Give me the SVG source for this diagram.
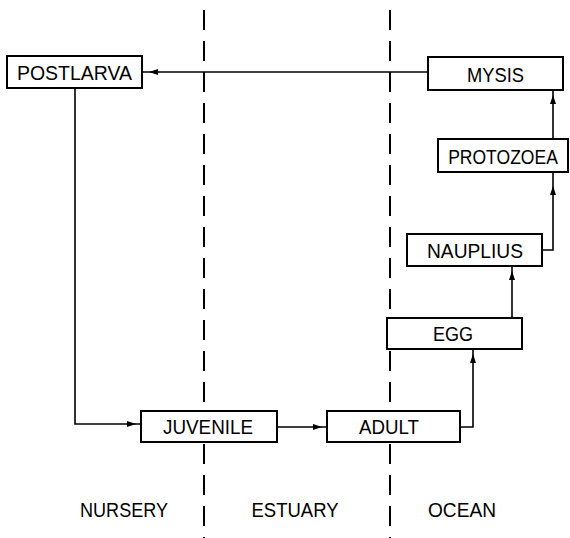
<svg xmlns="http://www.w3.org/2000/svg" xmlns:xlink="http://www.w3.org/1999/xlink" width="570" height="538" viewBox="0 0 570 538">
<style>
  .zone { stroke:#000; stroke-width:2; stroke-dasharray:20 11; fill:none; }
  .box { fill:#fff; stroke:#000; stroke-width:2; }
  .lbl { font-family:"Liberation Sans", Arial, sans-serif; font-size:20.5px; fill:#000; text-anchor:middle; }
  .conn { stroke:#000; stroke-width:1.6; fill:none; }
</style>
<defs>
  <path id="ah" d="M0,0 L-9,-3 L-9,3 Z" fill="#000"/>
</defs>
<rect width="570" height="538" fill="#fff"/>
<g id="zones">
  <line class="zone" x1="204" y1="10" x2="204" y2="538"/>
  <line class="zone" x1="390" y1="10" x2="390" y2="538"/>
</g>
<g id="connectors">
  <line class="conn" x1="428" y1="72" x2="142" y2="72"/>
  <use xlink:href="#ah" transform="translate(149,72) rotate(180)"/>
  <line class="conn" x1="553" y1="139" x2="553" y2="90"/>
  <use xlink:href="#ah" transform="translate(553,95) rotate(-90)"/>
  <polyline class="conn" points="542,250 553,250 553,172"/>
  <use xlink:href="#ah" transform="translate(553,186) rotate(-90)"/>
  <line class="conn" x1="512" y1="318" x2="512" y2="266"/>
  <use xlink:href="#ah" transform="translate(512,271) rotate(-90)"/>
  <polyline class="conn" points="460,427 473,427 473,349"/>
  <use xlink:href="#ah" transform="translate(473,354) rotate(-90)"/>
  <line class="conn" x1="277" y1="427" x2="327" y2="427"/>
  <use xlink:href="#ah" transform="translate(322,427)"/>
  <polyline class="conn" points="75,88 75,424 141,424"/>
  <use xlink:href="#ah" transform="translate(136,424)"/>
</g>
<g id="postlarva">
  <rect class="box" x="7" y="56" width="135" height="32"/>
  <text class="lbl" x="74.5" y="80" textLength="115" lengthAdjust="spacingAndGlyphs">POSTLARVA</text>
</g>
<g id="mysis">
  <rect class="box" x="428" y="57" width="135" height="33"/>
  <text class="lbl" x="495.5" y="82" textLength="57" lengthAdjust="spacingAndGlyphs">MYSIS</text>
</g>
<g id="protozoea">
  <rect class="box" x="438" y="139" width="130" height="33"/>
  <text class="lbl" transform="translate(503,164) scale(0.855,1)" x="0" y="0">PROTOZOEA</text>
</g>
<g id="nauplius">
  <rect class="box" x="407" y="234" width="135" height="32"/>
  <text class="lbl" x="475" y="258" textLength="96" lengthAdjust="spacingAndGlyphs">NAUPLIUS</text>
</g>
<g id="egg">
  <rect class="box" x="387" y="318" width="135" height="31"/>
  <text class="lbl" x="453" y="341" textLength="40" lengthAdjust="spacingAndGlyphs">EGG</text>
</g>
<g id="juvenile">
  <rect class="box" x="141" y="411" width="136" height="31"/>
  <text class="lbl" x="208" y="434" textLength="90" lengthAdjust="spacingAndGlyphs">JUVENILE</text>
</g>
<g id="adult">
  <rect class="box" x="327" y="411" width="133" height="31"/>
  <text class="lbl" x="389" y="434" textLength="60" lengthAdjust="spacingAndGlyphs">ADULT</text>
</g>
<g id="labels">
  <text class="lbl" x="124" y="517" textLength="88" lengthAdjust="spacingAndGlyphs">NURSERY</text>
  <text class="lbl" x="295" y="517" textLength="87" lengthAdjust="spacingAndGlyphs">ESTUARY</text>
  <text class="lbl" x="462" y="517" textLength="68" lengthAdjust="spacingAndGlyphs">OCEAN</text>
</g>
</svg>
